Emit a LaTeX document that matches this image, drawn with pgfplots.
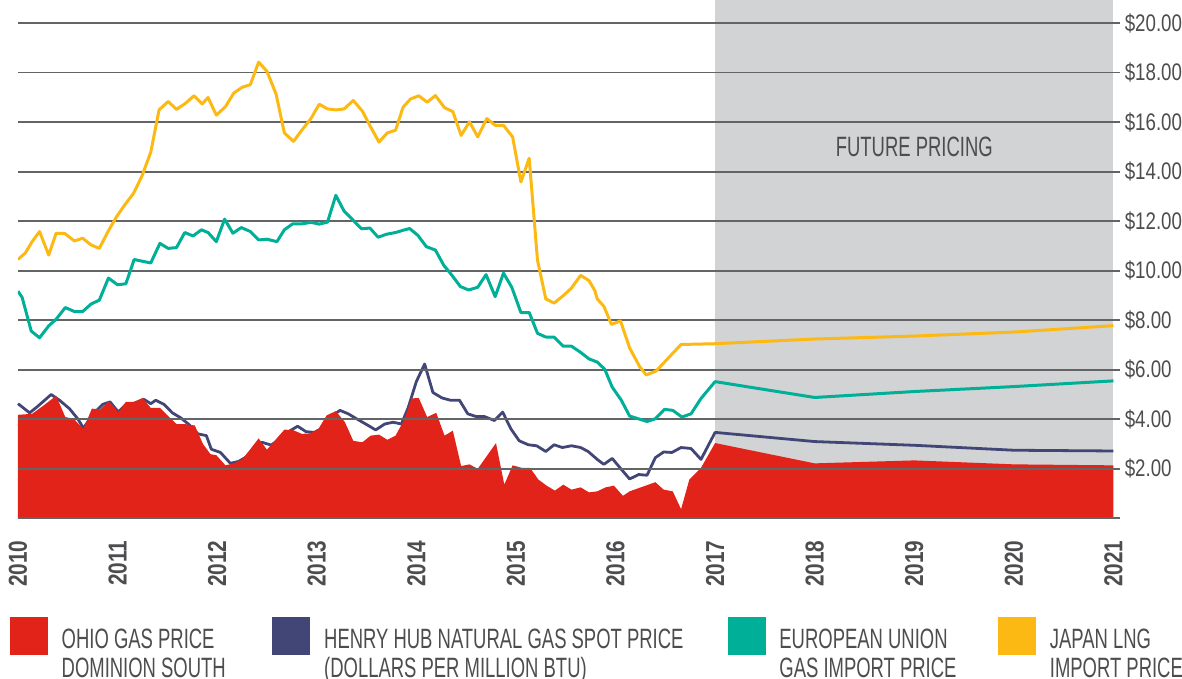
\documentclass[border=0pt]{standalone}
\usepackage{fontspec}
\setmainfont{Liberation Sans}
\newfontfamily\legfont{Liberation Sans}[FakeStretch=0.66]
\newfontfamily\numfont{Liberation Sans}[FakeStretch=0.78]
\newfontfamily\yearfont{Liberation Sans}[FakeStretch=0.8]
\usepackage{pgfplots}
\usepackage{pgfplotstable}
\pgfplotsset{compat=1.18}

\definecolor{ohio}{HTML}{E2231A}
\definecolor{henry}{HTML}{414677}
\definecolor{eu}{HTML}{00AF98}
\definecolor{japan}{HTML}{FDB913}
\definecolor{shade}{HTML}{D1D3D4}
\definecolor{gridc}{HTML}{636466}
\definecolor{txt}{HTML}{4D4D4F}

\newcommand{\legtext}[3]{\makebox[#1][l]{\raisebox{7pt}{\begin{tabular}[t]{@{}l@{}}#2\\#3\end{tabular}}}}

% x = months since Jan 2010, y = dollars per million BTU
\pgfplotstableread{
m v
0 4.18
1.7 4.22
3.1 4.56
4.6 4.95
5.7 4.09
6.7 4.02
7.9 3.61
8.9 4.43
9.9 4.40
10.95 4.73
12.1 4.29
13.0 4.70
14.0 4.70
15.0 4.86
16.0 4.46
17.1 4.46
18.1 4.13
19.1 3.81
20.2 3.80
21.3 3.75
22.3 3.00
23.2 2.59
23.9 2.55
25.0 2.14
26.0 2.22
27.0 2.38
28.0 2.79
29.0 3.23
30.0 2.77
31.1 3.20
32.1 3.58
33.1 3.57
34.2 3.41
35.2 3.43
36.2 3.61
37.2 4.16
38.3 4.33
39.4 3.88
40.4 3.13
41.5 3.07
42.5 3.34
43.5 3.38
44.5 3.17
45.5 3.34
46.6 4.02
47.4 4.84
48.3 4.86
49.3 4.09
50.4 4.26
51.4 3.34
52.4 3.54
53.4 2.11
54.4 2.18
55.4 2.00
57.6 3.04
58.6 1.36
59.6 2.14
60.7 2.04
61.7 2.04
62.7 1.57
63.7 1.32
64.7 1.12
65.7 1.36
66.7 1.16
67.8 1.25
68.8 1.05
69.8 1.09
70.8 1.25
71.8 1.32
72.9 0.91
73.7 1.09
76.8 1.46
77.8 1.16
78.9 1.09
79.9 0.37
80.9 1.57
82.3 2.04
84 3.04
96 2.22
108 2.34
120 2.18
132 2.14
}\ohiodata

\pgfplotstableread{
m v
0 4.63
1.4 4.26
2.3 4.50
4.0 5.00
5.0 4.77
6.2 4.43
7.2 4.02
7.9 3.64
9.0 4.20
10.2 4.60
11.1 4.70
12.1 4.29
13.0 4.60
14.0 4.65
15.2 4.80
16.0 4.63
16.6 4.77
17.6 4.60
18.6 4.26
19.6 4.06
20.6 3.79
21.7 3.41
22.7 3.34
23.3 2.79
24.4 2.66
25.6 2.22
26.6 2.30
27.6 2.50
28.5 2.90
29.4 3.07
30.5 2.96
31.6 3.20
32.6 3.50
33.7 3.72
34.7 3.50
35.7 3.47
36.7 3.65
37.7 4.10
38.8 4.36
39.8 4.22
40.8 4.02
42.1 3.77
43.1 3.57
44.2 3.81
45.2 3.88
46.2 3.81
47.0 4.45
48.0 5.52
49.0 6.23
50.0 5.08
51.1 4.86
52.1 4.77
53.2 4.77
54.2 4.22
55.2 4.11
56.2 4.11
57.4 3.95
58.4 4.29
59.4 3.61
60.4 3.13
61.5 2.97
62.5 2.93
63.6 2.70
64.6 2.97
65.6 2.86
66.7 2.93
67.8 2.86
68.7 2.70
69.8 2.38
70.6 2.18
71.6 2.42
72.7 1.98
73.7 1.59
74.8 1.77
75.8 1.74
76.8 2.45
77.8 2.68
78.8 2.66
79.9 2.86
81.1 2.82
82.3 2.38
84 3.47
96 3.10
108 2.95
120 2.75
132 2.72
}\henrydata

\pgfplotstableread{
m v
0 9.17
0.5 8.92
1.6 7.56
2.6 7.29
3.7 7.77
4.6 8.04
5.7 8.51
6.8 8.35
7.8 8.35
8.8 8.65
9.8 8.81
10.9 9.70
12.0 9.43
13.0 9.47
14.0 10.45
16.0 10.31
17.1 11.10
18.1 10.90
19.1 10.93
20.1 11.54
21.1 11.40
22.1 11.65
22.9 11.54
23.9 11.17
24.9 12.08
25.9 11.51
26.9 11.74
28.0 11.58
29.0 11.24
30.0 11.27
31.2 11.17
32.1 11.65
33.1 11.89
34.2 11.89
35.3 11.95
36.3 11.88
37.3 11.96
38.3 13.04
39.3 12.40
40.4 12.03
41.4 11.69
42.4 11.72
43.4 11.35
44.4 11.47
45.5 11.54
46.6 11.65
47.2 11.70
48.2 11.42
49.2 10.97
50.3 10.83
51.3 10.22
52.3 9.81
53.3 9.36
54.3 9.22
55.4 9.33
56.4 9.84
57.5 8.95
58.5 9.90
59.5 9.33
60.6 8.31
61.6 8.31
62.6 7.47
63.6 7.32
64.6 7.32
65.7 6.95
66.7 6.95
67.8 6.70
68.8 6.44
69.8 6.31
70.7 6.02
71.6 5.30
72.7 4.77
73.7 4.13
75.8 3.91
76.8 4.02
77.9 4.40
78.9 4.36
80.0 4.09
81.1 4.22
82.3 4.84
84 5.52
96 4.88
108 5.12
120 5.32
132 5.55
}\eudata

\pgfplotstableread{
m v
0 10.45
0.9 10.72
1.7 11.17
2.6 11.58
3.7 10.63
4.6 11.51
5.6 11.51
6.8 11.20
7.8 11.31
8.8 11.04
9.8 10.90
10.9 11.61
11.9 12.19
12.9 12.67
13.9 13.11
14.9 13.79
16.0 14.78
17.0 16.49
18.1 16.83
19.1 16.51
20.2 16.76
21.2 17.06
22.2 16.73
22.9 16.99
23.9 16.28
25.0 16.62
26.0 17.17
27.0 17.40
28.0 17.51
29.0 18.42
30.0 18.05
31.1 17.13
32.1 15.56
33.2 15.22
34.2 15.67
35.3 16.14
36.3 16.72
37.3 16.53
38.3 16.49
39.3 16.53
40.4 16.87
41.5 16.44
42.5 15.80
43.5 15.19
44.5 15.56
45.5 15.67
46.4 16.60
47.3 16.93
48.3 17.06
49.3 16.80
50.3 17.07
51.4 16.58
52.4 16.42
53.4 15.46
54.4 16.01
55.4 15.40
56.5 16.14
57.5 15.87
58.5 15.87
59.6 15.40
60.6 13.58
61.6 14.54
62.6 10.42
63.6 8.86
64.6 8.69
65.7 8.99
66.7 9.30
67.8 9.81
68.8 9.60
69.5 9.20
69.8 8.86
70.6 8.56
71.5 7.83
72.6 7.97
73.7 6.88
74.9 6.13
75.7 5.79
76.9 5.95
79.9 7.02
84 7.05
96 7.24
108 7.36
120 7.52
132 7.78
}\japandata

\begin{document}
\begin{tikzpicture}
\begin{axis}[
    name=ax,
    set layers,
    scale only axis,
    width=551.9pt, height=256pt,
    xmin=0, xmax=132.84, ymin=0, ymax=20.645,
    axis x line*=bottom, axis y line*=right,
    axis line style={draw=none},
    major tick length=0pt,
    xtick={0,12,24,36,48,60,72,84,96,108,120,132},
    xticklabels={2010,2011,2012,2013,2014,2015,2016,2017,2018,2019,2020,2021},
    xticklabel style={rotate=90, anchor=east, inner xsep=11pt, inner ysep=0pt,
        font=\yearfont\bfseries\fontsize{13pt}{13pt}\selectfont, text=txt},
    ytick={2,4,6,8,10,12,14,16,18,20},
    yticklabels={\$2.00,\$4.00,\$6.00,\$8.00,\$10.00,\$12.00,\$14.00,\$16.00,\$18.00,\$20.00},
    yticklabel style={anchor=west, inner sep=0pt, xshift=2pt,
        font=\numfont\fontsize{12pt}{12pt}\selectfont, text=txt},
    ymajorgrids,
    major grid style={draw=gridc, line width=1pt},
    extra y ticks={0}, extra y tick labels={},
    extra y tick style={grid style={draw=black!15, line width=1pt}},
    legend columns=4,
    legend cell align=left,
    legend style={at={(axis description cs:0,0)}, anchor=north west,
        xshift=-4pt, yshift=-49.5pt, draw=none, fill=none,
        inner sep=0pt, outer sep=0pt,
        font=\legfont\fontsize{14pt}{14.25pt}\selectfont, text=txt,
        nodes={inner sep=0pt, outer sep=0pt},
        /tikz/every odd column/.append style={column sep=7pt}},
]
\addplot[on layer=axis background, fill=shade, draw=none, forget plot]
    coordinates {(84,25) (132,25)} \closedcycle;
\addplot[on layer=axis background, henry, line width=1.4pt, line join=round, forget plot]
    table {\henrydata};
\addplot[on layer=axis background, fill=ohio, draw=none, forget plot]
    table {\ohiodata} \closedcycle;
\addplot[eu, line width=1.5pt, line join=round, forget plot] table {\eudata};
\addplot[japan, line width=1.5pt, line join=round, forget plot] table {\japandata};

\addlegendimage{legend image code/.code={\fill[ohio] (0pt,-3.65pt) rectangle (18.5pt,14.85pt);}}
\addlegendentry{\legtext{105.5pt}{OHIO GAS PRICE}{DOMINION SOUTH}}
\addlegendimage{legend image code/.code={\fill[henry] (0pt,-3.65pt) rectangle (18.5pt,14.85pt);}}
\addlegendentry{\legtext{202pt}{HENRY HUB NATURAL GAS SPOT PRICE}{(DOLLARS PER MILLION BTU)}}
\addlegendimage{legend image code/.code={\fill[eu] (0pt,-3.65pt) rectangle (18.5pt,14.85pt);}}
\addlegendentry{\legtext{109.5pt}{EUROPEAN UNION}{GAS IMPORT PRICE}}
\addlegendimage{legend image code/.code={\fill[japan] (0pt,-3.65pt) rectangle (18.5pt,14.85pt);}}
\addlegendentry{\legtext{60pt}{JAPAN LNG}{IMPORT PRICE}}

\node[font=\legfont\fontsize{14pt}{14pt}\selectfont, text=txt] at (axis cs:108,15) {FUTURE PRICING};
\end{axis}
\path[use as bounding box] ([xshift=-9pt,yshift=-80pt]ax.south west)
    rectangle ([xshift=30pt,yshift=3.5pt]ax.north east);
\end{tikzpicture}
\end{document}
